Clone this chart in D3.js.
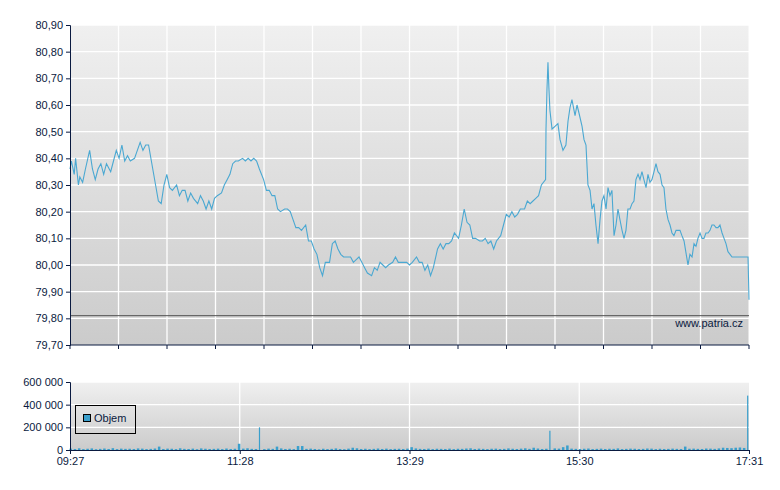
<!DOCTYPE html>
<html><head><meta charset="utf-8">
<script src="https://cdn.jsdelivr.net/npm/d3@7"></script>
<style>body{margin:0;background:#fff}text{font-family:"Liberation Sans",Arial,sans-serif;font-size:11px;fill:#0a1a40}</style>
</head><body><svg id="c" width="780" height="490"></svg>
<script>
// minutes after 09:27
const priceTimes=[0,1,3,4,6,7,9,11,14,16,18,20,22,24,26,29,31,33,35,37,39,41,43,46,48,50,52,54,56,58,61,63,65,67,69,71,73,76,78,80,82,84,86,88,91,93,95,97,99,101,103,105,108,110,112,114,116,118,120,123,125,127,129,131,133,135,138,140,142,144,146,148,150,153,155,157,159,161,163,165,168,170,172,174,176,178,180,182,185,187,189,191,193,195,197,200,202,204,206,208,210,212,215,217,219,221,223,225,227,230,232,234,236,238,240,242,244,247,249,251,253,255,257,259,262,264,266,268,270,272,274,277,279,281,283,285,287,289,292,294,296,298,300,302,304,307,309,311,313,315,317,319,321,324,326,328,330,332,334,336,339,339.3,340,340.7,341.4,342.1,343.6,345.7,347.8,349.3,351.4,353.5,355,356.4,357.8,360,361.4,362.8,365,366.4,367.8,369.2,370.7,372.1,373.5,374.9,376.4,377.8,379.2,380.6,382.1,383.5,384.9,386.3,387.8,389.2,390.6,392,393.5,394.9,396.3,397.7,399.2,400.6,402,403.4,404.9,406.3,407.7,409.1,410.6,412,413.4,414.8,416.3,417.7,419.1,420.6,422,423.4,424.8,426.3,427.7,429.1,430.5,432,433.4,434.8,436.2,437.7,440.5,441.9,443.4,444.8,446.2,447.6,449.1,450.5,451.9,453.3,454.8,456.2,457.6,459,460.5,461.9,463.3,464.8,466.2,467.6,469,470.5,471.9,477.6,483.3,484];
const priceValues=[80.36,80.39,80.34,80.40,80.30,80.33,80.31,80.36,80.43,80.36,80.32,80.36,80.38,80.34,80.38,80.35,80.39,80.43,80.40,80.45,80.39,80.41,80.39,80.40,80.43,80.46,80.43,80.45,80.45,80.39,80.30,80.24,80.23,80.30,80.34,80.29,80.28,80.30,80.26,80.28,80.28,80.24,80.27,80.25,80.23,80.26,80.24,80.21,80.24,80.21,80.25,80.26,80.27,80.30,80.32,80.34,80.38,80.39,80.39,80.40,80.39,80.40,80.39,80.40,80.39,80.36,80.32,80.28,80.28,80.26,80.26,80.21,80.20,80.21,80.21,80.20,80.17,80.14,80.14,80.13,80.15,80.09,80.09,80.06,80.04,79.99,79.96,80.01,80.01,80.08,80.09,80.06,80.04,80.03,80.03,80.03,80.01,80.02,80.03,80.01,79.99,79.97,79.96,79.99,79.98,80.01,80.00,79.99,80.00,80.01,80.03,80.01,80.01,80.01,80.01,80.00,80.01,80.03,80.01,80.01,79.98,80.00,79.96,79.99,80.06,80.08,80.06,80.08,80.08,80.09,80.12,80.10,80.15,80.21,80.16,80.15,80.10,80.10,80.09,80.09,80.10,80.08,80.09,80.06,80.09,80.11,80.15,80.19,80.18,80.20,80.18,80.19,80.21,80.21,80.24,80.23,80.24,80.25,80.26,80.30,80.32,
80.51,80.66,80.76,80.66,80.58,80.51,80.52,80.53,80.47,80.43,80.45,80.54,80.59,80.62,80.56,80.60,80.57,80.52,80.47,80.45,80.30,80.28,80.21,80.23,80.15,80.08,80.17,80.24,80.26,80.21,80.29,80.26,80.28,80.11,80.15,80.21,80.17,80.13,80.10,80.13,80.21,80.21,80.23,80.24,80.32,80.34,80.32,80.35,80.32,
80.29,80.34,80.31,80.32,80.35,80.38,80.35,80.34,80.30,80.29,80.21,80.17,80.15,80.12,80.11,80.13,80.13,80.13,80.11,80.09,80.00,80.04,80.03,80.08,80.07,80.10,80.12,80.10,80.10,80.12,80.12,80.13,80.15,80.15,80.14,80.14,80.15,80.12,80.10,80.08,80.05,80.04,80.03,80.03,80.03,79.87];
const volTimes=d3.range(0,485,3);
const volValues=[12000,9000,15000,8000,11000,14000,7000,10000,13000,9000,16000,8000,12000,10000,11000,9000,14000,12000,8000,10000,13000,30000,9000,12000,11000,8000,15000,10000,9000,12000,7000,14000,11000,9000,10000,12000,8000,13000,9000,11000,55000,12000,15000,10000,9000,200000,8000,12000,10000,30000,14000,9000,11000,8000,35000,35000,10000,12000,9000,6000,11000,8000,10000,14000,9000,7000,12000,20000,15000,9000,11000,8000,10000,13000,9000,12000,8000,10000,11000,9000,12000,25000,14000,10000,9000,12000,8000,11000,10000,9000,12000,8000,11000,10000,13000,15000,9000,12000,10000,8000,11000,12000,9000,10000,14000,11000,9000,12000,15000,10000,20000,13000,9000,11000,170000,14000,12000,25000,40000,12000,10000,9000,11000,13000,8000,10000,12000,9000,11000,10000,14000,8000,10000,12000,11000,9000,10000,13000,12000,8000,11000,9000,10000,12000,10000,9000,30000,11000,12000,10000,9000,13000,12000,10000,14000,20000,18000,16000,20000,22000,18000,480000];
const yTicks=[79.7,79.8,79.9,80.0,80.1,80.2,80.3,80.4,80.5,80.6,80.7,80.8,80.9];
const vTicks=[0,200000,400000,600000];
const xLabelTimes=[0,121,242,363,484];
const xLabels=["09:27","11:28","13:29","15:30","17:31"];
const refLine=79.81;

const svg=d3.select("#c");
const L=70,R=749,T=25,B=345,VT=382,VB=450;
const x=d3.scaleLinear().domain([0,484]).range([L,R]);
const y=d3.scaleLinear().domain([79.7,80.9]).range([B,T]);
const yv=d3.scaleLinear().domain([0,600000]).range([VB,VT]);
const defs=svg.append("defs");
const g=defs.append("linearGradient").attr("id","bg").attr("x1",0).attr("y1",0).attr("x2",0).attr("y2",1);
g.append("stop").attr("offset","0%").attr("stop-color","#f0f0f0");
g.append("stop").attr("offset","100%").attr("stop-color","#cbcbcb");
svg.append("rect").attr("x",L).attr("y",T).attr("width",R-L).attr("height",B-T).attr("fill","url(#bg)");
svg.append("rect").attr("x",L).attr("y",VT).attr("width",R-L).attr("height",VB-VT).attr("fill","url(#bg)");
const fmt=d=>d.toFixed(2).replace(".",",");
const vfmt=d=>d3.format(",")(d).replace(/,/g," ");
const vg=d3.range(1,14).map(i=>L+(R-L)*i/14);
svg.selectAll(".vg").data(vg).join("line").attr("x1",d=>d).attr("x2",d=>d).attr("y1",T).attr("y2",B).attr("stroke","#fff").attr("stroke-width",1.3);
svg.selectAll(".hg").data(yTicks.slice(1)).join("line").attr("x1",L).attr("x2",R).attr("y1",d=>y(d)).attr("y2",d=>y(d)).attr("stroke","#fff").attr("stroke-width",1.3);
svg.append("line").attr("x1",R).attr("x2",R).attr("y1",T).attr("y2",B).attr("stroke","#fff");
svg.append("line").attr("x1",L).attr("x2",R).attr("y1",y(refLine)).attr("y2",y(refLine)).attr("stroke","#555");
svg.append("text").attr("x",743).attr("y",327).attr("text-anchor","end").text("www.patria.cz");
const n=Math.min(priceTimes.length,priceValues.length);
svg.append("path").datum(d3.range(n).map(i=>[priceTimes[i],priceValues[i]])).attr("fill","none").attr("stroke","#4aa8d2").attr("stroke-width",1.1)
 .attr("d",d3.line().x(d=>x(d[0])).y(d=>y(d[1])));
const style=a=>{a.select(".domain").attr("stroke","#0a1a40");a.selectAll("line").attr("stroke","#0a1a40");a.selectAll("text").style("font-size","11px").attr("fill","#0a1a40");};
svg.append("g").attr("transform",`translate(${L},0)`).call(d3.axisLeft(y).tickValues(yTicks).tickFormat(fmt).tickSize(4)).call(style);
svg.append("line").attr("x1",L).attr("x2",R).attr("y1",B).attr("y2",B).attr("stroke","#0a1a40");
svg.selectAll(".mt").data([L,...vg,R]).join("line").attr("x1",d=>d).attr("x2",d=>d).attr("y1",B).attr("y2",B+4).attr("stroke","#0a1a40");
svg.selectAll(".vvg").data(xLabelTimes.slice(1,4)).join("line").attr("x1",d=>x(d)).attr("x2",d=>x(d)).attr("y1",VT).attr("y2",VB).attr("stroke","#fff").attr("stroke-width",1.3);
svg.selectAll(".vhg").data(vTicks.slice(1)).join("line").attr("x1",L).attr("x2",R).attr("y1",d=>yv(d)).attr("y2",d=>yv(d)).attr("stroke","#fff").attr("stroke-width",1.3);
svg.selectAll(".vb").data(volTimes.map((t,i)=>[t,volValues[i]])).join("rect").attr("x",d=>x(d[0])-0.5).attr("width",d=>d[1]>100000?1.2:2.5).attr("y",d=>yv(d[1])).attr("height",d=>VB-yv(d[1])).attr("fill","#3a9fcc");
svg.append("g").attr("transform",`translate(${L},0)`).call(d3.axisLeft(yv).tickValues(vTicks).tickFormat(vfmt).tickSize(4)).call(style);
svg.append("g").attr("transform",`translate(0,${VB})`).call(d3.axisBottom(x).tickValues(xLabelTimes).tickFormat((d,i)=>xLabels[i]).tickSize(4)).call(style);
svg.append("rect").attr("x",75.5).attr("y",405.5).attr("width",60).attr("height",28).attr("fill","none").attr("stroke","#000");
svg.append("rect").attr("x",83.5).attr("y",414.5).attr("width",7).attr("height",7).attr("fill","#3a9fcc").attr("stroke","#000");
svg.append("text").attr("x",94).attr("y",422).text("Objem");
</script></body></html>
